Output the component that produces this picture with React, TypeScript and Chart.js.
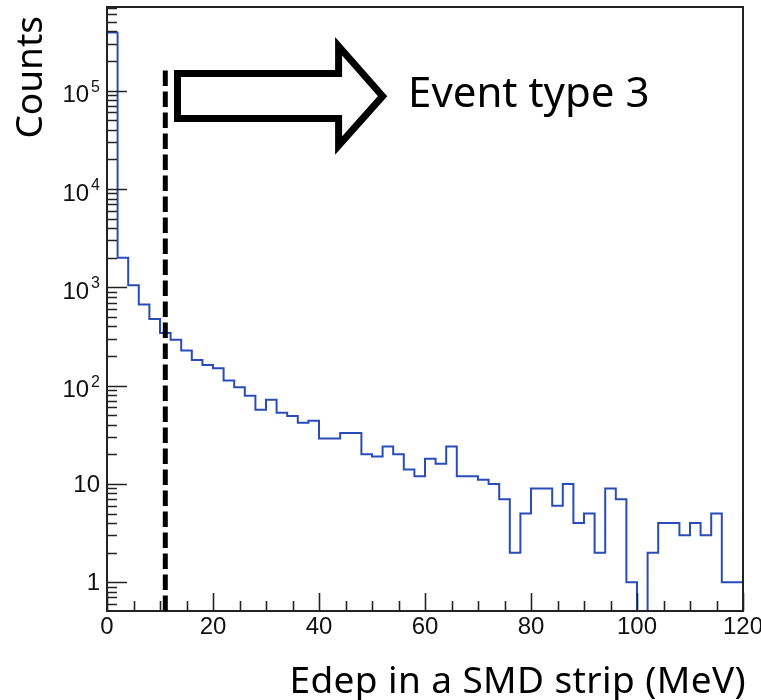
import { useEffect, useRef } from "react";
import { Chart, registerables } from "chart.js";

Chart.register(...registerables);

// ---- data ----
const X_MIN = 0;
const X_MAX = 120;
const BIN_WIDTH = 2; // MeV
const COUNTS = [
  390000, 2000, 1050, 667, 477, 343, 293, 227, 182, 162,
  150, 113, 96, 79, 57, 72, 53, 49, 42, 44,
  29, 29, 33, 33, 20, 19, 24, 20, 14, 12,
  18, 16, 24, 12, 12, 11, 10, 7, 2, 5,
  9, 9, 6, 10, 4, 5, 2, 9, 7, 1,
  0, 2, 4, 4, 3, 4, 3, 5, 1, 1,
];
const X_TICK_VALUES = [0, 20, 40, 60, 80, 100, 120];
const X_TICK_LABELS = ["0", "20", "40", "60", "80", "100", "120"];
const X_MINOR_STEP = 5;
const Y_MIN = 0.51;
const Y_MAX = 7.1e5;
const Y_TICK_VALUES = [1, 10, 100, 1000, 10000, 100000];
const Y_TICK_LABELS = ["1", "10", "10²", "10³", "10⁴", "10⁵"];

const X_TITLE = "Edep in a SMD strip (MeV)";
const Y_TITLE = "Counts";

// ---- annotation (data coordinates) ----
const CUT_X = 11;
const CUT_TOP = 1.6e5;
const ARROW = {
  x0: 13.3,
  xNeck: 43.7,
  xTip: 52.0,
  yBodyTop: 1.5e5,
  yBodyBottom: 5.2e4,
  yHeadTop: 2.83e5,
  yHeadBottom: 2.77e4,
  yTip: 8.8e4,
};
const LABEL_TEXT = "Event type 3";
const LABEL_X = 56.8;
const LABEL_Y = 6.9e4;

const HIST_COLOR = "#2a4cb8";
const FRAME_COLOR = "#222";
const TICK_FONT = '24px "Liberation Sans"';
const SUP_FONT = '16px "Liberation Sans"';
const TITLE_FONT = '37px "Noto Sans"';

const SUP_MAP: Record<string, string> = {
  "⁰": "0", "¹": "1", "²": "2", "³": "3", "⁴": "4",
  "⁵": "5", "⁶": "6", "⁷": "7", "⁸": "8", "⁹": "9",
};

const rootDecor = {
  id: "rootDecor",
  afterDatasetsDraw(chart: any) {
    const { ctx, chartArea: a, scales } = chart;
    const xs = scales.x;
    const ys = scales.y;
    ctx.save();

    // ticks (inward, ROOT style)
    ctx.strokeStyle = FRAME_COLOR;
    ctx.lineWidth = 1.6;
    ctx.beginPath();
    for (let v = X_MIN; v <= X_MAX; v += X_MINOR_STEP) {
      const px = Math.round(xs.getPixelForValue(v)) + 0.5;
      const len = X_TICK_VALUES.includes(v) ? 18 : 10;
      ctx.moveTo(px, a.bottom);
      ctx.lineTo(px, a.bottom - len);
    }
    for (let e = -1; e <= 6; e++) {
      for (let m = 1; m <= 9; m++) {
        const v = m * Math.pow(10, e);
        if (v < Y_MIN || v > Y_MAX) continue;
        const py = Math.round(ys.getPixelForValue(v)) + 0.5;
        const len = m === 1 ? 20 : 10;
        ctx.moveTo(a.left, py);
        ctx.lineTo(a.left + len, py);
      }
    }
    ctx.stroke();

    // frame
    ctx.lineWidth = 2;
    ctx.strokeRect(a.left, a.top, a.right - a.left, a.bottom - a.top);

    // y tick labels with real superscripts
    ctx.fillStyle = "#111";
    ctx.textBaseline = "alphabetic";
    const right = a.left - 7;
    Y_TICK_VALUES.forEach((v, i) => {
      const label = Y_TICK_LABELS[i];
      const py = ys.getPixelForValue(v);
      const chars = Array.from(label);
      const expChars = chars.filter((c) => SUP_MAP[c] !== undefined);
      if (expChars.length) {
        const base = chars.filter((c) => SUP_MAP[c] === undefined).join("");
        const exp = expChars.map((c) => SUP_MAP[c]).join("");
        ctx.font = SUP_FONT;
        const we = ctx.measureText(exp).width;
        ctx.textAlign = "left";
        ctx.fillText(exp, right - we, py + 1);
        ctx.font = TICK_FONT;
        const wb = ctx.measureText(base).width;
        ctx.fillText(base, right - we - 2 - wb, py + 11.6);
      } else {
        ctx.font = TICK_FONT;
        ctx.textAlign = "right";
        ctx.fillText(label, right, py + 8);
      }
    });

    // axis titles
    ctx.fillStyle = "#000";
    ctx.font = TITLE_FONT;
    try { (ctx as any).letterSpacing = "0.4px"; } catch (e) {}
    ctx.textAlign = "right";
    ctx.fillText(X_TITLE, a.right + 3, 693.3);
    try { (ctx as any).letterSpacing = "0px"; } catch (e) {}
    ctx.save();
    ctx.translate(41.7, 16);
    ctx.rotate(-Math.PI / 2);
    ctx.textAlign = "right";
    ctx.fillText(Y_TITLE, 0, 0);
    ctx.restore();

    // dashed cut line
    ctx.strokeStyle = "#000";
    ctx.lineWidth = 5;
    ctx.setLineDash([15.5, 5.5]);
    ctx.beginPath();
    const cx = xs.getPixelForValue(CUT_X);
    ctx.moveTo(cx, a.bottom);
    ctx.lineTo(cx, ys.getPixelForValue(CUT_TOP));
    ctx.stroke();
    ctx.setLineDash([]);

    // arrow
    const X = (v: number) => xs.getPixelForValue(v);
    const Y = (v: number) => ys.getPixelForValue(v);
    ctx.lineWidth = 7;
    ctx.lineJoin = "miter";
    ctx.miterLimit = 10;
    ctx.beginPath();
    ctx.moveTo(X(ARROW.x0), Y(ARROW.yBodyTop));
    ctx.lineTo(X(ARROW.xNeck), Y(ARROW.yBodyTop));
    ctx.lineTo(X(ARROW.xNeck), Y(ARROW.yHeadTop));
    ctx.lineTo(X(ARROW.xTip), Y(ARROW.yTip));
    ctx.lineTo(X(ARROW.xNeck), Y(ARROW.yHeadBottom));
    ctx.lineTo(X(ARROW.xNeck), Y(ARROW.yBodyBottom));
    ctx.lineTo(X(ARROW.x0), Y(ARROW.yBodyBottom));
    ctx.closePath();
    ctx.stroke();

    // label
    ctx.fillStyle = "#000";
    ctx.font = '42px "Noto Sans"';
    ctx.textBaseline = "alphabetic";
    ctx.textAlign = "left";
    ctx.fillText(LABEL_TEXT, X(LABEL_X), Y(LABEL_Y));

    ctx.restore();
  },
};

export default function App() {
  const ref = useRef<HTMLCanvasElement>(null);

  useEffect(() => {
    // empty bins are drawn down to the axis floor, as ROOT does
    const points = COUNTS.map((c, i) => ({ x: X_MIN + i * BIN_WIDTH, y: c > 0 ? c : Y_MIN }));
    points.push({ x: X_MAX, y: COUNTS[COUNTS.length - 1] > 0 ? COUNTS[COUNTS.length - 1] : Y_MIN });

    const chart = new Chart(ref.current as HTMLCanvasElement, {
      type: "line",
      data: {
        datasets: [
          {
            data: points,
            stepped: "before",
            borderColor: HIST_COLOR,
            borderWidth: 2,
            pointRadius: 0,
            fill: false,
          },
        ],
      },
      options: {
        animation: false,
        responsive: true,
        maintainAspectRatio: false,
        layout: { padding: { left: 0, right: 18, top: 7, bottom: 0 } },
        plugins: { legend: { display: false }, tooltip: { enabled: false } },
        scales: {
          x: {
            type: "linear",
            min: X_MIN,
            max: X_MAX,
            grid: { display: false, drawTicks: false },
            border: { display: false },
            afterBuildTicks: (s: any) => {
              s.ticks = X_TICK_VALUES.map((v) => ({ value: v }));
            },
            afterFit: (s: any) => {
              s.height = 89;
              s.paddingLeft = 0;
              s.paddingRight = 0;
            },
            ticks: {
              autoSkip: false,
              maxRotation: 0,
              padding: 2,
              color: "#111",
              font: { family: "Liberation Sans", size: 24 },
              callback: (v: any) => X_TICK_LABELS[X_TICK_VALUES.indexOf(Number(v))],
            },
          },
          y: {
            type: "logarithmic",
            min: Y_MIN,
            max: Y_MAX,
            grid: { display: false, drawTicks: false },
            border: { display: false },
            afterBuildTicks: (s: any) => {
              s.ticks = Y_TICK_VALUES.map((v) => ({ value: v }));
            },
            afterFit: (s: any) => {
              s.width = 107;
              s.paddingTop = 0;
              s.paddingBottom = 0;
            },
            ticks: { display: false },
          },
        },
      },
      plugins: [rootDecor],
    } as any);

    return () => chart.destroy();
  }, []);

  return (
    <div
      style={{
        position: "fixed",
        left: 0,
        top: 0,
        width: 761,
        height: 700,
        background: "#fff",
      }}
    >
      <canvas ref={ref} />
    </div>
  );
}
